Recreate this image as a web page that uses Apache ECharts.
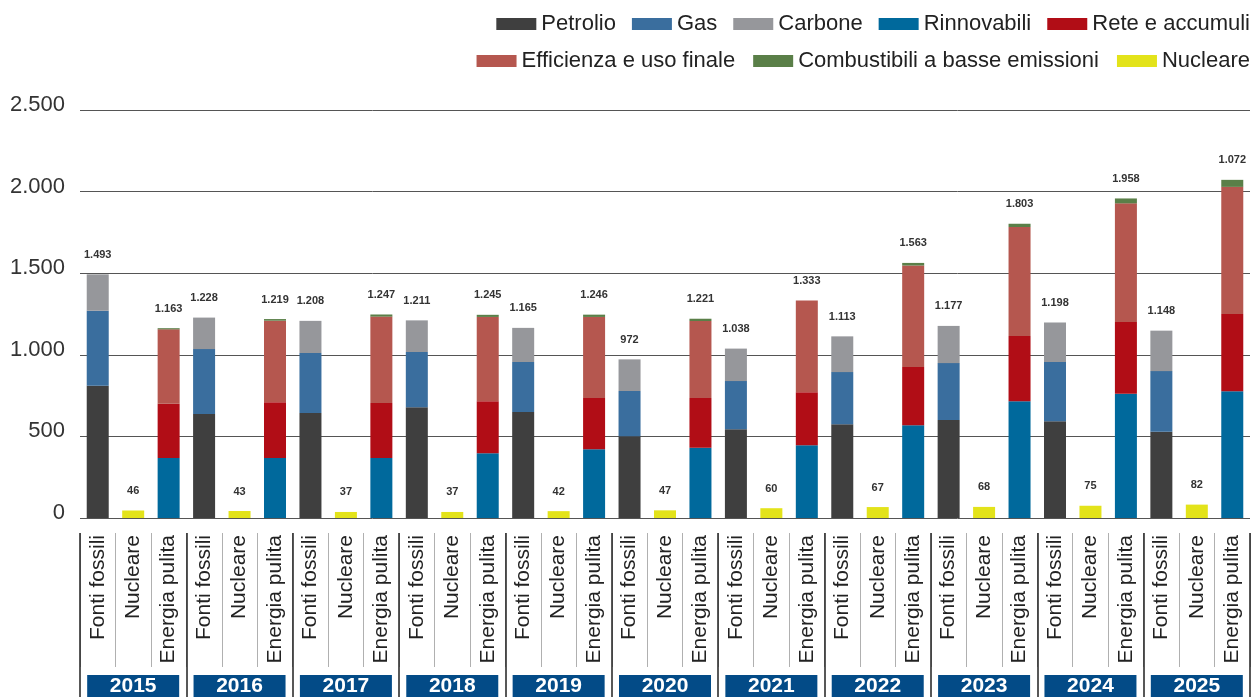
<!DOCTYPE html>
<html>
<head>
<meta charset="utf-8">
<title></title>
<style>
  html, body { margin: 0; padding: 0; background: #fff; }
  #main { width: 1251px; height: 697px; }
</style>
</head>
<body>
<div id="main"></div>
<script src="https://cdn.jsdelivr.net/npm/echarts@6/dist/echarts.min.js"></script>
<script>
var years = ['2015', '2016', '2017', '2018', '2019', '2020', '2021', '2022', '2023', '2024', '2025'];
var groups = ['Fonti fossili', 'Nucleare', 'Energia pulita'];

// Fonti fossili
var petrolio = [810, 638, 644, 679, 649, 501, 544, 575, 600, 593, 528];
var gas = [460, 397, 367, 338, 307, 277, 295, 319, 349, 363, 372];
var carbone = [223, 193, 197, 194, 209, 194, 199, 219, 228, 242, 248];
// Nucleare
var nucleare = [46, 43, 37, 37, 42, 47, 60, 67, 68, 75, 82];
// Energia pulita
var rinnovabili = [368, 368, 368, 397, 422, 430, 446, 569, 716, 761, 777];
var rete = [332, 342, 336, 319, 313, 305, 325, 356, 399, 440, 473];
var efficienza = [456, 499, 530, 516, 497, 472, 562, 622, 668, 727, 779];
var combustibili = [7, 10, 13, 13, 14, 14, 0, 16, 20, 30, 43];

// etichette dei totali come stampate nel grafico
var fossiliLabels = [1493, 1228, 1208, 1211, 1165, 972, 1038, 1113, 1177, 1198, 1148];
var pulitaLabels = [1163, 1219, 1247, 1245, 1246, 1221, 1333, 1563, 1803, 1958, 1072];

var yTicks = [0, 500, 1000, 1500, 2000, 2500];

var FONT = '"Liberation Sans", Arial, sans-serif';

function fmt(v) {
  if (v >= 1000) {
    var r = String(v % 1000);
    while (r.length < 3) r = '0' + r;
    return Math.floor(v / 1000) + '.' + r;
  }
  return String(v);
}

var categories = [];
for (var i = 0; i < years.length; i++) {
  for (var j = 0; j < groups.length; j++) {
    categories.push(years[i] + '|' + groups[j]);
  }
}

function spread(arr, slot) {
  var out = [];
  for (var i = 0; i < categories.length; i++) out.push('-');
  for (var k = 0; k < arr.length; k++) out[k * 3 + slot] = arr[k];
  return out;
}

var totals = [];
for (var k = 0; k < years.length; k++) {
  totals.push(fossiliLabels[k], nucleare[k], pulitaLabels[k]);
}
var zeros = categories.map(function () { return 0; });

function bar(name, color, arr, slot) {
  return {
    name: name,
    type: 'bar',
    stack: 'a',
    barWidth: 22,
    itemStyle: { color: color },
    data: spread(arr, slot)
  };
}

var series = [
  bar('Petrolio', '#3f3f3f', petrolio, 0),
  bar('Gas', '#3a6e9e', gas, 0),
  bar('Carbone', '#96979b', carbone, 0),
  bar('Rinnovabili', '#00699c', rinnovabili, 2),
  bar('Rete e accumuli', '#b10d16', rete, 2),
  bar('Efficienza e uso finale', '#b5574f', efficienza, 2),
  bar('Combustibili a basse emissioni', '#5a7f48', combustibili, 2),
  bar('Nucleare', '#e3e31a', nucleare, 1),
  {
    name: 'Totale',
    type: 'bar',
    stack: 'a',
    barWidth: 22,
    itemStyle: { color: 'transparent' },
    label: {
      show: true,
      position: 'top',
      distance: 14,
      fontFamily: FONT,
      fontSize: 11,
      fontWeight: 'bold',
      color: '#333',
      formatter: function (p) { return fmt(totals[p.dataIndex]); }
    },
    data: zeros
  }
];

var legendText = { fontFamily: FONT, fontSize: 22, color: '#222' };

var myChart = echarts.init(document.getElementById('main'));
var option = {
  animation: false,
  backgroundColor: '#fff',
  legend: [
    {
      data: ['Petrolio', 'Gas', 'Carbone', 'Rinnovabili', 'Rete e accumuli'],
      right: 1, top: 13, padding: 0,
      icon: 'rect', itemWidth: 40, itemHeight: 12, itemGap: 16,
      textStyle: legendText
    },
    {
      data: ['Efficienza e uso finale', 'Combustibili a basse emissioni', 'Nucleare'],
      right: 1, top: 50, padding: 0,
      icon: 'rect', itemWidth: 40, itemHeight: 12, itemGap: 18,
      textStyle: legendText
    }
  ],
  grid: { left: 80, right: 1, top: 110, bottom: 179, containLabel: false },
  xAxis: [
    {
      type: 'category',
      data: categories,
      axisLine: { show: false },
      axisTick: { show: false },
      splitLine: { show: false },
      axisLabel: {
        interval: 0,
        rotate: 90,
        margin: 17,
        fontFamily: FONT,
        fontSize: 21,
        color: '#222',
        formatter: function (v) { return v.split('|')[1]; }
      }
    },
    {
      type: 'category',
      data: categories,
      position: 'bottom',
      offset: 15,
      axisLine: { show: false },
      axisLabel: { show: false },
      splitLine: { show: false },
      axisTick: { show: true, interval: 0, length: 134, lineStyle: { color: '#b0b0b0', width: 1 } }
    },
    {
      type: 'category',
      data: years,
      position: 'bottom',
      offset: 15,
      axisLine: { show: false },
      splitLine: { show: false },
      axisTick: { show: true, interval: 0, length: 164, lineStyle: { color: '#222', width: 1.5 } },
      axisLabel: {
        interval: 0,
        margin: 142,
        fontFamily: FONT,
        fontSize: 21,
        fontWeight: 'bold',
        color: '#fff',
        backgroundColor: '#034b87',
        width: 92,
        height: 22,
        lineHeight: 22,
        align: 'center',
        padding: 0
      }
    }
  ],
  yAxis: {
    type: 'value',
    min: yTicks[0],
    max: yTicks[yTicks.length - 1],
    interval: 500,
    axisLine: { show: false },
    axisTick: { show: false },
    splitLine: { lineStyle: { color: '#555', width: 1 } },
    axisLabel: {
      margin: 15,
      verticalAlign: 'bottom',
      lineHeight: 10,
      fontFamily: FONT,
      fontSize: 22,
      color: '#333',
      formatter: function (v) { return fmt(v); }
    }
  },
  series: series
};
myChart.setOption(option);
</script>
</body>
</html>
